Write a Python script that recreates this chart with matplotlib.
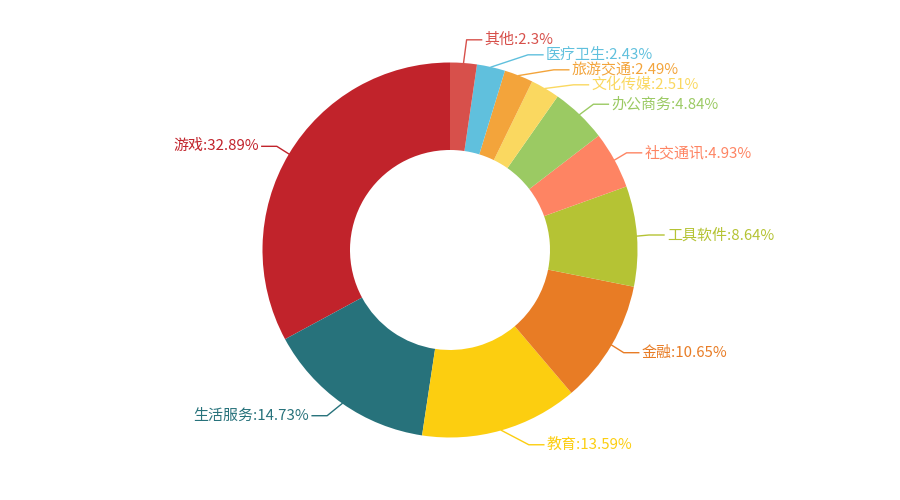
"""Donut chart of app categories with echarts-style outside labels."""
import math

import matplotlib
matplotlib.use("Agg")
import matplotlib.pyplot as plt

# data, in drawing order (counter-clockwise from 12 o'clock)
categories = ["游戏", "生活服务", "教育", "金融", "工具软件", "社交通讯",
              "办公商务", "文化传媒", "旅游交通", "医疗卫生", "其他"]
shares = [32.89, 14.73, 13.59, 10.65, 8.64, 4.93, 4.84, 2.51, 2.49, 2.43, 2.3]
colors = ["#C1232B", "#27727B", "#FCCE10", "#E87C25", "#B5C334", "#FE8463",
          "#9BCA63", "#FAD860", "#F3A43B", "#60C0DD", "#D7504B"]

W, H = 900, 500
CX, CY = 450, 250          # centre, pixel coords (y down)
R_OUT, R_IN = 187.5, 100
LEN1, LEN2 = 15, 15        # leader line segments
TEXT_H = 15                # label height used for overlap avoidance
FONT = ["Noto Sans CJK SC", "DejaVu Sans"]


def layout_labels():
    """Label anchor points, roughly the echarts 4 pie label layout."""
    total = sum(shares)
    items = []
    cum = 0.0
    for i, v in enumerate(shares):
        ang = math.radians(90 + 360 * (cum + v / 2) / total)
        cum += v
        dx, dy = math.cos(ang), -math.sin(ang)   # y down
        x1 = CX + (R_OUT + LEN1) * dx
        y1 = CY + (R_OUT + LEN1) * dy
        side = -1 if dx < 0 else 1
        items.append(dict(i=i, side=side,
                          p0=(CX + R_OUT * dx, CY + R_OUT * dy),
                          x=x1 + side * (LEN2 + 5), y=y1))

    for side in (1, -1):
        lst = sorted([it for it in items if it["side"] == side], key=lambda t: t["y"])
        n = len(lst)

        def shift_up(end, delta):
            for j in range(end, -1, -1):
                lst[j]["y"] -= delta
                if j > 0 and lst[j]["y"] > lst[j - 1]["y"] + TEXT_H:
                    break

        def shift_down(start, end, delta):
            for j in range(start, end):
                lst[j]["y"] += delta
                if j > start and j + 1 < end and lst[j + 1]["y"] > lst[j]["y"] + TEXT_H:
                    shift_up(j, delta / 2)
                    return
            shift_up(end - 1, delta / 2)

        last_y = 0
        for j in range(n):
            delta = lst[j]["y"] - last_y
            if delta < 0:
                shift_down(j, n, -delta)
            last_y = lst[j]["y"] + TEXT_H

        up = [t for t in lst if t["y"] < CY]
        down = [t for t in lst if t["y"] >= CY]
        for group, is_down in ((up, False), (down, True)):
            last_dx = float("inf") if is_down else 0
            for t in group:
                d_y = abs(t["y"] - CY)
                if d_y < R_OUT + LEN1:
                    d_x = math.sqrt((R_OUT + LEN1 + LEN2) ** 2 - d_y ** 2)
                else:
                    d_x = abs(t["x"] - CX)
                if is_down and d_x >= last_dx:
                    d_x = last_dx - 10
                if not is_down and d_x <= last_dx:
                    d_x = last_dx + 10
                t["x"] = CX + d_x * side
                last_dx = d_x
    return items


fig = plt.figure(figsize=(W / 100, H / 100), dpi=100)
ax = fig.add_axes([0, 0, 1, 1])
ax.pie(shares, colors=colors, startangle=90, counterclock=True,
       center=(CX, H - CY), radius=R_OUT,
       wedgeprops=dict(width=R_OUT - R_IN, linewidth=0))

for it in layout_labels():
    c = colors[it["i"]]
    s = it["side"]
    end_x = it["x"] - 3 * s
    elbow_x = end_x - LEN2 * s
    xs = [it["p0"][0], elbow_x, end_x]
    ys = [H - it["p0"][1], H - it["y"], H - it["y"]]
    ax.plot(xs, ys, color=c, linewidth=1)
    ax.text(it["x"], H - it["y"], f"{categories[it['i']]}:{shares[it['i']]}%",
            color=c, fontsize=10.8, family=FONT,
            ha="left" if s > 0 else "right", va="center")

ax.set_xlim(0, W)
ax.set_ylim(0, H)
ax.set_aspect("equal")
ax.axis("off")
fig.savefig("out.png", dpi=100)
